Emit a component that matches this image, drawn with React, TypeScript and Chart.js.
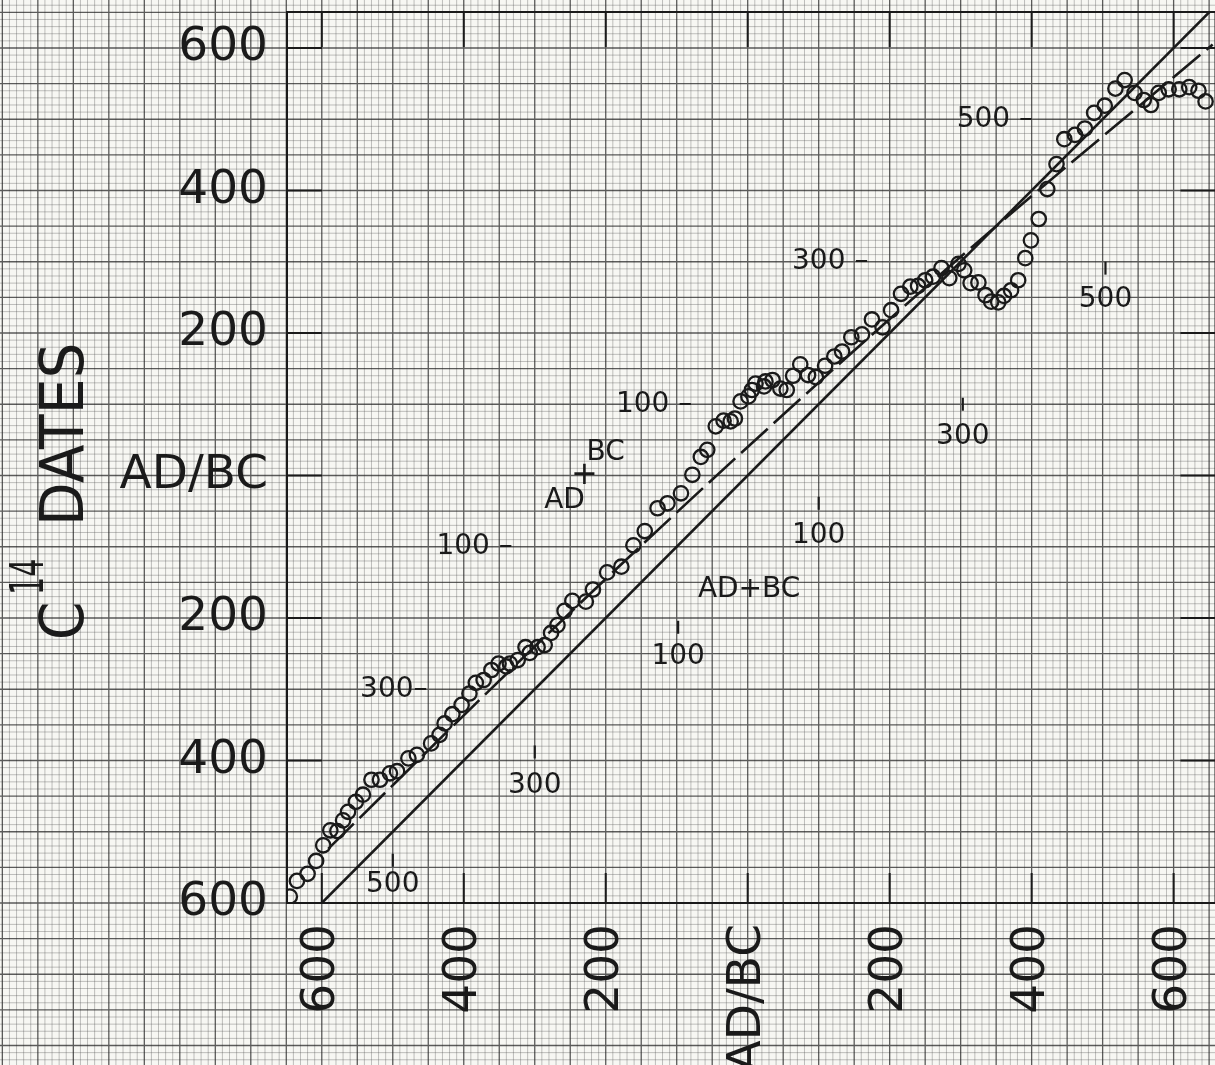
import React, { useEffect, useRef } from 'react';
import { Chart, registerables } from 'chart.js';

Chart.register(...registerables);

// ---- data (calendar date on x, negative = BC; radiocarbon date on y) ----
const calendarYears = [
  -645, -635, -620, -608, -598, -588, -578, -570, -563, -552, -542, -530, -518, -504, -494, -478, -466,
  -446, -434, -427, -416, -403, -392, -383, -372, -361, -351, -340, -335, -324, -313, -307, -296, -286,
  -277, -268, -258, -247, -228, -218, -198, -178, -161, -145, -127, -113, -94, -78, -66, -57, -45, -34,
  -24, -18, -10, 1, 6, 11, 23, 25, 35, 46, 55, 64, 74, 85, 96, 109, 122, 133, 146, 161, 175, 190, 202,
  216, 229, 240, 250, 261, 273, 284, 297, 305, 314, 325, 335, 343, 353, 361, 371, 381, 391, 399, 410,
  422, 435, 446, 461, 475, 488, 503, 518, 531, 545, 558, 568, 579, 593, 608, 622, 635, 645,
];
const c14Dates = [
  -591, -569, -559, -541, -519, -498, -499, -484, -472, -458, -448, -427, -427, -418, -415, -397, -392,
  -376, -364, -348, -335, -322, -306, -291, -287, -273, -264, -268, -264, -259, -241, -249, -241, -238,
  -221, -210, -190, -176, -177, -160, -136, -128, -98, -78, -46, -39, -25, 1, 26, 36, 69, 77,
  76, 80, 104, 111, 120, 129, 125, 132, 134, 122, 120, 140, 156, 141, 138, 154, 167, 174, 194, 198, 219, 208, 232,
  255, 265, 266, 274, 279, 291, 277, 297, 288, 270, 271, 253, 244, 243, 252, 260, 274, 305, 330, 360,
  402, 437, 472, 478, 487, 509, 519, 543, 555, 537, 527, 520, 537, 542, 542, 545, 540, 525,
];
const dashedCurveX = [-591, -300, 0, 300, 655];
const dashedCurveY = [-524, -240, 40, 307, 605];
const equalityLine = [-600, 700];
const axisTickValues = [-600, -400, -200, 0, 200, 400, 600];
const axisTickText = ['600', '400', '200', 'AD/BC', '200', '400', '600'];

// secondary C14 scale marked along the dashed curve
const curveScaleText = ['500 –', '300 –', '100 –', '100 –', '300–'];
const curveScaleC14 = [500, 300, 100, -100, -300];
const curveScaleEndX = [402, 170, -78, -331, -451];

// secondary calendar scale marked along the equality line
const lineScaleText = ['500', '300', '100', '100', '300', '500'];
const lineScaleYear = [-500, -300, -98, 100, 303, 504];
const lineScaleTickY = [-540, -388, -213, -39, 100, 291];
const lineScaleLabelY = [-575, -435, -255, -85, 54, 246];

const INK = '#1a1a1a';
const FONT = '"DejaVu Sans", sans-serif';

const paperPlugin = {
  id: 'paper',
  beforeDraw(chart: any) {
    const { ctx, width, height } = chart;
    const xs = chart.scales.x;
    const ys = chart.scales.y;
    ctx.save();
    ctx.fillStyle = '#f7f7f3';
    ctx.fillRect(0, 0, width, height);
    const pass = (major: boolean) => {
      ctx.strokeStyle = major ? 'rgba(30,30,30,0.72)' : 'rgba(80,80,80,0.38)';
      ctx.lineWidth = major ? 1.3 : 0.9;
      ctx.beginPath();
      for (let v = -1200; v <= 1200; v += 10) {
        if ((v % 50 === 0) !== major) continue;
        const px = xs.getPixelForValue(v);
        if (px >= -2 && px <= width + 2) {
          ctx.moveTo(px, 0);
          ctx.lineTo(px, height);
        }
        const py = ys.getPixelForValue(v);
        if (py >= -2 && py <= height + 2) {
          ctx.moveTo(0, py);
          ctx.lineTo(width, py);
        }
      }
      ctx.stroke();
    };
    pass(false);
    pass(true);
    ctx.restore();
  },
};

const framePlugin = {
  id: 'frame',
  beforeDatasetsDraw(chart: any) {
    const { ctx, chartArea: a } = chart;
    const xs = chart.scales.x;
    const ys = chart.scales.y;
    ctx.save();
    ctx.strokeStyle = INK;
    ctx.lineWidth = 2;
    ctx.beginPath();
    ctx.moveTo(a.left, a.bottom);
    ctx.lineTo(a.left, a.top);
    ctx.lineTo(a.right, a.top);
    ctx.lineTo(a.right, a.bottom);
    ctx.closePath();
    for (const v of axisTickValues) {
      const px = xs.getPixelForValue(v);
      const py = ys.getPixelForValue(v);
      ctx.moveTo(px, a.bottom);
      ctx.lineTo(px, a.bottom - 30);
      ctx.moveTo(px, a.top);
      ctx.lineTo(px, a.top + 35);
      ctx.moveTo(a.left, py);
      ctx.lineTo(a.left + 35, py);
      ctx.moveTo(a.right, py);
      ctx.lineTo(a.right - 35, py);
    }
    ctx.stroke();

    // axis tick labels
    ctx.fillStyle = INK;
    ctx.font = `47px ${FONT}`;
    ctx.textBaseline = 'middle';
    ctx.textAlign = 'right';
    axisTickValues.forEach((v, i) => {
      ctx.fillText(axisTickText[i], a.left - 19, ys.getPixelForValue(v));
    });
    axisTickValues.forEach((v, i) => {
      ctx.save();
      ctx.translate(xs.getPixelForValue(v), a.bottom + 21);
      ctx.rotate(-Math.PI / 2);
      ctx.fillText(axisTickText[i], 0, 0);
      ctx.restore();
    });
    ctx.restore();
  },
};

const labelsPlugin = {
  id: 'labels',
  afterDatasetsDraw(chart: any) {
    const { ctx } = chart;
    const xs = chart.scales.x;
    const ys = chart.scales.y;
    ctx.save();
    ctx.fillStyle = INK;
    ctx.strokeStyle = INK;
    ctx.font = `28px ${FONT}`;
    ctx.textBaseline = 'middle';

    // scale along dashed curve
    ctx.textAlign = 'right';
    curveScaleText.forEach((t, i) => {
      ctx.fillText(t, xs.getPixelForValue(curveScaleEndX[i]), ys.getPixelForValue(curveScaleC14[i]));
    });
    ctx.textAlign = 'center';
    ctx.fillText('AD', xs.getPixelForValue(-258), ys.getPixelForValue(-36));
    ctx.font = `32px ${FONT}`;
    ctx.fillText('+', xs.getPixelForValue(-230), ys.getPixelForValue(0));
    ctx.font = `28px ${FONT}`;
    ctx.fillText('BC', xs.getPixelForValue(-200), ys.getPixelForValue(32));

    // scale along equality line
    ctx.lineWidth = 2.2;
    lineScaleText.forEach((t, i) => {
      const px = xs.getPixelForValue(lineScaleYear[i]);
      const py = ys.getPixelForValue(lineScaleTickY[i]);
      ctx.beginPath();
      ctx.moveTo(px, py - 6.5);
      ctx.lineTo(px, py + 6.5);
      ctx.stroke();
      ctx.fillText(t, px, ys.getPixelForValue(lineScaleLabelY[i]));
    });
    ctx.fillText('AD+BC', xs.getPixelForValue(2), ys.getPixelForValue(-161));
    ctx.restore();

    // axis title: C14 DATES
    ctx.save();
    ctx.fillStyle = INK;
    ctx.translate(61, 637);
    ctx.rotate(-Math.PI / 2);
    ctx.textAlign = 'left';
    ctx.textBaseline = 'alphabetic';
    ctx.save();
    ctx.scale(0.92, 1);
    ctx.font = `60px ${FONT}`;
    ctx.fillText('C', -3 / 0.92, 22);
    ctx.restore();
    ctx.save();
    ctx.scale(0.62, 1);
    ctx.font = `46px ${FONT}`;
    ctx.fillText('14', 42 / 0.62, -18);
    ctx.restore();
    ctx.save();
    ctx.scale(0.945, 1);
    ctx.font = `60px ${FONT}`;
    ctx.fillText('DATES', 111 / 0.945, 22);
    ctx.restore();
    ctx.restore();
  },
};

export default function App() {
  const ref = useRef<HTMLCanvasElement>(null);

  useEffect(() => {
    const canvas = ref.current;
    if (!canvas) return;
    const points = calendarYears.map((x, i) => ({ x, y: c14Dates[i] }));
    const solid = equalityLine.map((v) => ({ x: v, y: v }));
    const dashed = dashedCurveX.map((x, i) => ({ x, y: dashedCurveY[i] }));

    const chart = new Chart(canvas, {
      type: 'scatter',
      data: {
        datasets: [
          {
            type: 'line',
            data: solid,
            borderColor: INK,
            borderWidth: 2.6,
            pointRadius: 0,
            fill: false,
            clip: 0,
          } as any,
          {
            type: 'line',
            data: dashed,
            borderColor: INK,
            borderWidth: 2.6,
            borderDash: [36, 8],
            pointRadius: 0,
            fill: false,
            cubicInterpolationMode: 'monotone',
            clip: 0,
          } as any,
          {
            type: 'scatter',
            data: points,
            pointStyle: 'circle',
            pointRadius: 7.2,
            pointBorderWidth: 2.3,
            borderColor: INK,
            backgroundColor: 'rgba(0,0,0,0)',
            showLine: false,
            clip: 0,
          } as any,
        ],
      },
      options: {
        animation: false,
        responsive: false,
        events: [],
        layout: { padding: { left: 287, top: 12, right: 7, bottom: 162 } },
        plugins: { legend: { display: false }, tooltip: { enabled: false } },
        scales: {
          x: { type: 'linear', display: false, min: -649, max: 659 },
          y: { type: 'linear', display: false, min: -600, max: 650.5 },
        },
      } as any,
      plugins: [paperPlugin, framePlugin, labelsPlugin],
    });
    return () => chart.destroy();
  }, []);

  return (
    <div
      style={{
        position: 'fixed',
        left: 0,
        top: 0,
        width: 1215,
        height: 1065,
        overflow: 'hidden',
        background: '#f7f7f3',
      }}
    >
      <canvas ref={ref} width={1225} height={1065} style={{ display: 'block' }} />
    </div>
  );
}
